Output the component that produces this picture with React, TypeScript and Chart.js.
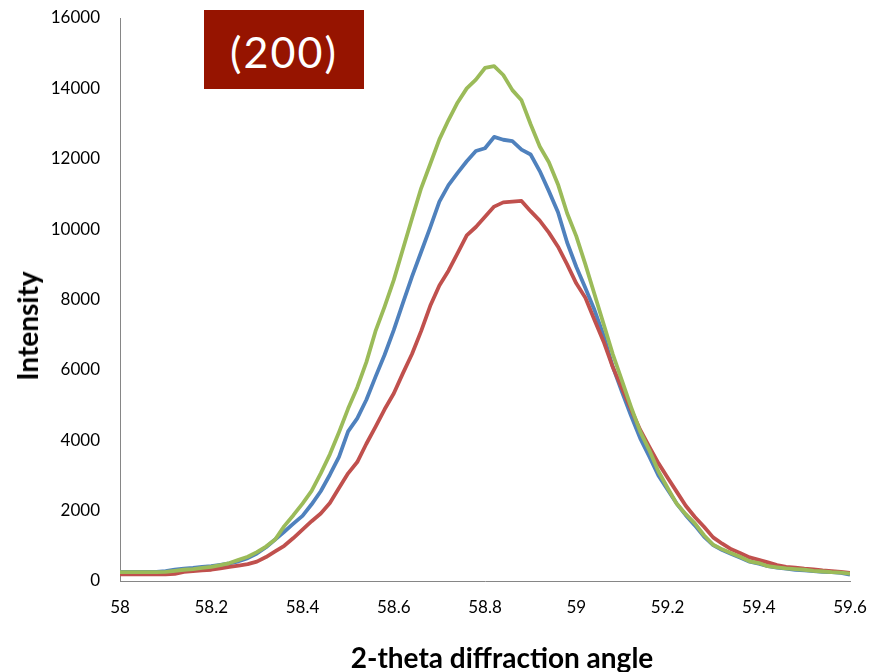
import React, { useEffect, useRef } from "react";
import { Chart, registerables } from "chart.js";

Chart.register(...registerables);

const angles: number[] = [
  58.0, 58.02, 58.04, 58.06, 58.08, 58.1, 58.12, 58.14, 58.16, 58.18,
  58.2, 58.22, 58.24, 58.26, 58.28, 58.3, 58.32, 58.34, 58.36, 58.38,
  58.4, 58.42, 58.44, 58.46, 58.48, 58.5, 58.52, 58.54, 58.56, 58.58,
  58.6, 58.62, 58.64, 58.66, 58.68, 58.7, 58.72, 58.74, 58.76, 58.78,
  58.8, 58.82, 58.84, 58.86, 58.88, 58.9, 58.92, 58.94, 58.96, 58.98,
  59.0, 59.02, 59.04, 59.06, 59.08, 59.1, 59.12, 59.14, 59.16, 59.18,
  59.2, 59.22, 59.24, 59.26, 59.28, 59.3, 59.32, 59.34, 59.36, 59.38,
  59.4, 59.42, 59.44, 59.46, 59.48, 59.5, 59.52, 59.54, 59.56, 59.58,
  59.6,
];

const blueSeries: number[] = [
  260, 260, 260, 260, 260, 280, 320, 350, 370, 400,
  420, 460, 500, 560, 650, 780, 960, 1180, 1400, 1630,
  1850, 2180, 2550, 3020, 3530, 4250, 4620, 5150, 5800, 6430,
  7130, 7900, 8650, 9350, 10050, 10780, 11250, 11600, 11930, 12220,
  12300, 12620, 12540, 12500, 12260, 12120, 11650, 11080, 10480, 9620,
  8930, 8330, 7700, 6980, 6090, 5380, 4700, 4060, 3540, 3000,
  2600, 2200, 1870, 1580, 1260, 1020, 880, 770, 660, 550,
  490, 420, 380, 350, 320, 300, 280, 260, 250, 230,
  180,
];

const redSeries: number[] = [
  190, 190, 190, 190, 190, 190, 200, 260, 280, 300,
  320, 360, 400, 440, 480, 550, 680, 840, 1000, 1220,
  1460, 1700, 1920, 2220, 2640, 3060, 3380, 3900, 4380, 4880,
  5330, 5900, 6450, 7100, 7820, 8400, 8820, 9320, 9820, 10060,
  10350, 10640, 10760, 10780, 10800, 10510, 10240, 9900, 9500, 9000,
  8460, 8050, 7420, 6800, 6080, 5480, 4880, 4300, 3820, 3350,
  2940, 2540, 2140, 1820, 1540, 1240, 1060, 900, 790, 670,
  600, 530, 450, 400, 380, 350, 330, 300, 280, 260,
  230,
];

const greenSeries: number[] = [
  250, 250, 250, 250, 250, 260, 290, 320, 340, 370,
  400, 450, 510, 600, 690, 820, 980, 1180, 1560, 1870,
  2200, 2560, 3060, 3600, 4230, 4900, 5500, 6220, 7100, 7800,
  8550, 9430, 10300, 11160, 11850, 12550, 13100, 13600, 14000, 14250,
  14580, 14630, 14380, 13950, 13660, 12980, 12350, 11900, 11270, 10450,
  9800, 9000, 8150, 7300, 6450, 5700, 4950, 4250, 3720, 3120,
  2650, 2200, 1900, 1640, 1300, 1030, 900, 790, 680, 560,
  510, 420, 390, 360, 340, 320, 290, 270, 250, 240,
  210,
];

const xTickMin = 58;
const xTickMax = 59.6;
const xTickStep = 0.2;
const yTickMin = 0;
const yTickMax = 16000;
const yTickStep = 2000;

const peakLabel = "(200)";
const xTitle = "2-theta diffraction angle";
const yTitle = "Intensity";

const FONT = "Lato, 'Open Sans', sans-serif";

export default function App() {
  const canvasRef = useRef<HTMLCanvasElement | null>(null);

  useEffect(() => {
    const canvas = canvasRef.current;
    if (!canvas) return;
    const toPts = (ys: number[]) => angles.map((x, i) => ({ x, y: ys[i] }));
    const common = { borderWidth: 3.8, pointRadius: 0, tension: 0, borderJoinStyle: "round" as const };
    const chart = new Chart(canvas, {
      type: "line",
      data: {
        datasets: [
          { label: "green", data: toPts(greenSeries), borderColor: "#9BBB59", order: 0, ...common },
          { label: "red", data: toPts(redSeries), borderColor: "#C0504D", order: 1, ...common },
          { label: "blue", data: toPts(blueSeries), borderColor: "#4F81BD", order: 2, ...common },
        ],
      },
      options: {
        animation: false,
        responsive: false,
        devicePixelRatio: 1,
        layout: { padding: { left: 12, right: 23, top: 18, bottom: 0 } },
        plugins: {
          legend: { display: false },
          tooltip: { enabled: false },
        },
        scales: {
          x: {
            type: "linear",
            min: xTickMin,
            max: xTickMax,
            grid: { display: false, drawTicks: false },
            border: { display: true, color: "#868686", width: 1 },
            ticks: {
              stepSize: xTickStep,
              padding: 16,
              color: "#000",
              font: { family: FONT, size: 17 },
              maxRotation: 0,
              callback: (v: any) => String(parseFloat(Number(v).toFixed(2))),
            },
            afterFit: (s: any) => {
              s.height = 91;
              s.paddingLeft = 0;
              s.paddingRight = 0;
            },
          },
          y: {
            type: "linear",
            min: yTickMin,
            max: yTickMax,
            grid: { display: false, drawTicks: false },
            border: { display: true, color: "#868686", width: 1 },
            ticks: {
              stepSize: yTickStep,
              padding: 20,
              color: "#000",
              font: { family: FONT, size: 17 },
              callback: (v: any) => String(v),
            },
            afterFit: (s: any) => {
              s.width = 108;
              s.paddingTop = 0;
              s.paddingBottom = 0;
            },
          },
        },
      },
    });
    return () => chart.destroy();
  }, []);

  return (
    <div style={{ position: "fixed", left: 0, top: 0, width: 873, height: 672, background: "#fff" }}>
      <canvas ref={canvasRef} width={873} height={672} />
      <div
        style={{
          position: "absolute",
          left: 204,
          top: 10,
          width: 160,
          height: 79,
          background: "#961400",
          color: "#fff",
          fontFamily: FONT,
          fontSize: 43,
          letterSpacing: 2,
          display: "flex",
          alignItems: "center",
          justifyContent: "center",
          lineHeight: 1,
          paddingTop: 4,
          boxSizing: "border-box",
        }}
      >
        {peakLabel}
      </div>
      <div
        style={{
          position: "absolute",
          left: 502,
          top: 657,
          transform: "translate(-50%, -50%)",
          whiteSpace: "nowrap",
          fontFamily: FONT,
          fontWeight: "bold",
          fontSize: 28,
          color: "#000",
          lineHeight: 1,
        }}
      >
        {xTitle}
      </div>
      <div
        style={{
          position: "absolute",
          left: 27,
          top: 326,
          transform: "translate(-50%, -50%) rotate(-90deg)",
          whiteSpace: "nowrap",
          fontFamily: FONT,
          fontWeight: "bold",
          fontSize: 28,
          color: "#000",
          lineHeight: 1,
        }}
      >
        {yTitle}
      </div>
    </div>
  );
}
